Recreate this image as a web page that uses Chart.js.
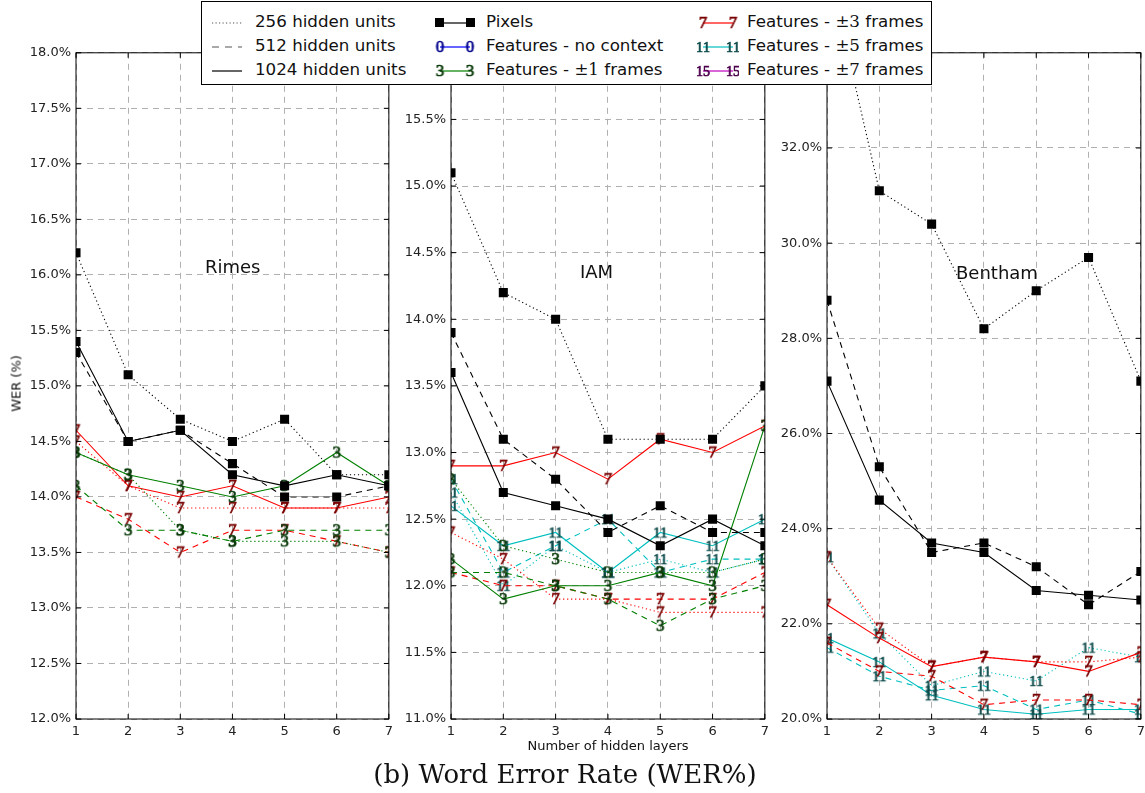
<!DOCTYPE html>
<html>
<head>
<meta charset="utf-8">
<script src="https://cdn.jsdelivr.net/npm/chart.js@4/dist/chart.umd.min.js"></script>
<style>
  body { margin: 0; background: #fff; width: 1145px; height: 793px; position: relative; overflow: hidden; font-family: "DejaVu Sans", sans-serif; }
  canvas.panel { position: absolute; top: 40px; }
  .lbl { position: absolute; color: #111; white-space: nowrap; }
  #legend { position: absolute; left: 201px; top: 1px; width: 729px; height: 82px; border: 1px solid #000; background: #fff; z-index: 5; }
  #legend .item { position: absolute; height: 20px; }
  #legend canvas { position: absolute; top: 0; }
  #legend span { position: absolute; top: -2px; font-size: 16.7px; color: #111; white-space: nowrap; }
  .pm { font-family: "DejaVu Serif", serif; font-size: 15.5px; }
</style>
</head>
<body>
<canvas id="rimes" class="panel" width="398" height="721" style="left:0px"></canvas>
<canvas id="iam" class="panel" width="384" height="721" style="left:390px"></canvas>
<canvas id="bentham" class="panel" width="384" height="721" style="left:766px"></canvas>

<div class="lbl" style="left:205px; top:256px; font-size:18px;">Rimes</div>
<div class="lbl" style="left:580px; top:261px; font-size:18px;">IAM</div>
<div class="lbl" style="left:956px; top:262px; font-size:18px;">Bentham</div>
<div class="lbl" style="left:-13px; top:376px; font-size:13px; transform:rotate(-90deg); width:58px; text-align:center;">WER (%)</div>
<div class="lbl" style="left:508px; top:738px; width:200px; text-align:center; font-size:13px;">Number of hidden layers</div>
<div class="lbl" style="left:258px; top:759px; width:614px; text-align:center; font-family:'DejaVu Serif',serif; font-size:26px;">(b) Word Error Rate (WER%)</div>

<div id="legend"></div>

<script>
/* layers on the x axis */
const layers = ["1", "2", "3", "4", "5", "6", "7"];

/* Rimes: WER % */
const rimesPix256 = [16.2, 15.1, 14.7, 14.5, 14.7, 14.2, 14.2];
const rimesPix512 = [15.3, 14.5, 14.6, 14.3, 14.0, 14.0, 14.1];
const rimesPix1024 = [15.4, 14.5, 14.6, 14.2, 14.1, 14.2, 14.1];
const rimesF1_256 = [14.4, 14.2, 13.7, 13.6, 13.6, 13.6, 13.5];
const rimesF1_512 = [14.1, 13.7, 13.7, 13.6, 13.7, 13.7, 13.7];
const rimesF1_1024 = [14.4, 14.2, 14.1, 14.0, 14.1, 14.4, 14.1];
const rimesF3_256 = [14.5, 14.1, 13.9, 13.9, 13.9, 13.9, 13.9];
const rimesF3_512 = [14.0, 13.8, 13.5, 13.7, 13.7, 13.6, 13.5];
const rimesF3_1024 = [14.6, 14.1, 14.0, 14.1, 13.9, 13.9, 14.0];

/* IAM */
const iamPix256 = [15.1, 14.2, 14.0, 13.1, 13.1, 13.1, 13.5];
const iamPix512 = [13.9, 13.1, 12.8, 12.4, 12.6, 12.4, 12.4];
const iamPix1024 = [13.6, 12.7, 12.6, 12.5, 12.3, 12.5, 12.3];
const iamF1_256 = [12.8, 12.3, 12.2, 12.1, 12.1, 12.1, 12.2];
const iamF1_512 = [12.1, 12.1, 12.0, 11.9, 11.7, 11.9, 12.0];
const iamF1_1024 = [12.2, 11.9, 12.0, 12.0, 12.1, 12.0, 13.2];
const iamF3_256 = [12.4, 12.2, 11.9, 11.9, 11.8, 11.8, 11.8];
const iamF3_512 = [12.1, 12.0, 12.0, 11.9, 11.9, 11.9, 12.1];
const iamF3_1024 = [12.9, 12.9, 13.0, 12.8, 13.1, 13.0, 13.2];
const iamF5_256 = [12.7, 12.0, 12.3, 12.1, 12.2, 12.1, 12.2];
const iamF5_512 = [12.8, 12.1, 12.3, 12.5, 12.1, 12.2, 12.2];
const iamF5_1024 = [12.6, 12.3, 12.4, 12.1, 12.4, 12.3, 12.5];

/* Bentham */
const benPix256 = [35.9, 31.1, 30.4, 28.2, 29.0, 29.7, 27.1];
const benPix512 = [28.8, 25.3, 23.5, 23.7, 23.2, 22.4, 23.1];
const benPix1024 = [27.1, 24.6, 23.7, 23.5, 22.7, 22.6, 22.5];
const benF3_256 = [23.4, 21.9, 21.1, 21.3, 21.2, 21.2, 21.3];
const benF3_512 = [21.6, 21.0, 20.9, 20.3, 20.4, 20.4, 20.3];
const benF3_1024 = [22.4, 21.7, 21.1, 21.3, 21.2, 21.0, 21.4];
const benF5_256 = [23.4, 21.8, 20.7, 21.0, 20.8, 21.5, 21.3];
const benF5_512 = [21.5, 20.9, 20.6, 20.7, 20.2, 20.4, 20.1];
const benF5_1024 = [21.7, 21.2, 20.5, 20.2, 20.1, 20.2, 20.2];

/* ---------- styles ---------- */
const dashFor = { 256: [1.2, 2.8], 512: [6, 5], 1024: [] };
const kinds = {
  pix: { line: "#000000", mark: "#000000", txt: null },
  f0:  { line: "#0000ff", mark: "#00008b", txt: "0" },
  f1:  { line: "#008000", mark: "#0b3b0b", txt: "3" },
  f3:  { line: "#ff0000", mark: "#7a0000", txt: "7" },
  f5:  { line: "#00bfbf", mark: "#0e4a4a", txt: "11" },
  f7:  { line: "#bf00bf", mark: "#4b004b", txt: "15" }
};

function textMarker(txt, color) {
  const c = document.createElement("canvas");
  c.width = txt.length > 1 ? 18 : 13;
  c.height = 18;
  const g = c.getContext("2d");
  g.font = (txt.length > 1 ? "14px" : "17px") + ' "Liberation Serif", serif';
  g.textAlign = "center";
  g.textBaseline = "middle";
  g.fillStyle = color;
  g.strokeStyle = color;
  g.lineWidth = 0.7;
  const parts = txt.length > 1 ? [[txt[0], -3.6], [txt[1], 3.6]] : [[txt, 0]];
  parts.forEach(([ch, dx]) => {
    g.fillText(ch, c.width / 2 + dx, c.height / 2 + 1);
    g.strokeText(ch, c.width / 2 + dx, c.height / 2 + 1);
  });
  return c;
}

const markers = {};
Object.keys(kinds).forEach(k => {
  if (kinds[k].txt) markers[k] = textMarker(kinds[k].txt, kinds[k].mark);
});

function ds(data, kind, units) {
  const k = kinds[kind];
  const isPix = kind === "pix";
  return {
    data,
    borderColor: k.line,
    borderWidth: 1.1,
    borderDash: dashFor[units],
    backgroundColor: k.mark,
    pointBorderColor: k.mark,
    pointBackgroundColor: k.mark,
    pointStyle: isPix ? "rect" : markers[kind],
    pointRadius: isPix ? 6.4 : 5,
    pointBorderWidth: 0,
    tension: 0,
    fill: false,
    clip: 0
  };
}

/* frame + inward ticks like matplotlib */
const framePlugin = {
  id: "frame",
  afterDraw(chart) {
    const { ctx, chartArea: a, scales } = chart;
    ctx.save();
    ctx.strokeStyle = "#000";
    ctx.lineWidth = 1;
    ctx.setLineDash([]);
    ctx.beginPath();
    scales.y.ticks.forEach(t => {
      const y = scales.y.getPixelForValue(t.value);
      ctx.moveTo(a.left, y); ctx.lineTo(a.left + 5, y);
      ctx.moveTo(a.right, y); ctx.lineTo(a.right - 5, y);
    });
    layers.forEach((l, i) => {
      const x = scales.x.getPixelForValue(i);
      ctx.moveTo(x, a.bottom); ctx.lineTo(x, a.bottom - 5);
      ctx.moveTo(x, a.top); ctx.lineTo(x, a.top + 5);
    });
    ctx.stroke();
    ctx.strokeRect(a.left, a.top, a.right - a.left, a.bottom - a.top);
    ctx.restore();
  }
};

function makePanel(id, yMin, yMax, yStep, padRight, yWidth, datasets) {
  const tickFont = { family: "DejaVu Sans", size: 13 };
  return new Chart(document.getElementById(id), {
    type: "line",
    data: { labels: layers, datasets },
    options: {
      responsive: false,
      animation: false,
      devicePixelRatio: 1,
      layout: { padding: { top: 9, right: padRight, left: 0, bottom: 0 } },
      plugins: { legend: { display: false }, tooltip: { enabled: false } },
      scales: {
        x: {
          offset: false,
          grid: { color: "#b0b0b0", lineWidth: 1, drawTicks: false },
          border: { display: false, dash: [6, 5] },
          ticks: { font: tickFont, color: "#222", padding: 5, maxRotation: 0, autoSkip: false },
          afterFit: s => { s.height = 42; }
        },
        y: {
          min: yMin,
          max: yMax,
          grid: { color: "#b0b0b0", lineWidth: 1, drawTicks: false },
          border: { display: false, dash: [6, 5] },
          ticks: { stepSize: yStep, font: tickFont, color: "#222", padding: 5, callback: v => v.toFixed(1) + "%" },
          afterFit: s => { s.width = yWidth; }
        }
      }
    },
    plugins: [framePlugin]
  });
}

makePanel("rimes", 12, 18, 0.5, 6, 76, [
  ds(rimesPix256, "pix", 256), ds(rimesPix512, "pix", 512), ds(rimesPix1024, "pix", 1024),
  ds(rimesF1_256, "f1", 256), ds(rimesF1_512, "f1", 512), ds(rimesF1_1024, "f1", 1024),
  ds(rimesF3_256, "f3", 256), ds(rimesF3_512, "f3", 512), ds(rimesF3_1024, "f3", 1024)
]);

makePanel("iam", 11, 16, 0.5, 6, 61, [
  ds(iamPix256, "pix", 256), ds(iamPix512, "pix", 512), ds(iamPix1024, "pix", 1024),
  ds(iamF1_256, "f1", 256), ds(iamF1_512, "f1", 512), ds(iamF1_1024, "f1", 1024),
  ds(iamF3_256, "f3", 256), ds(iamF3_512, "f3", 512), ds(iamF3_1024, "f3", 1024),
  ds(iamF5_256, "f5", 256), ds(iamF5_512, "f5", 512), ds(iamF5_1024, "f5", 1024)
]);

makePanel("bentham", 20, 34, 2, 6, 61, [
  ds(benPix256, "pix", 256), ds(benPix512, "pix", 512), ds(benPix1024, "pix", 1024),
  ds(benF3_256, "f3", 256), ds(benF3_512, "f3", 512), ds(benF3_1024, "f3", 1024),
  ds(benF5_256, "f5", 256), ds(benF5_512, "f5", 512), ds(benF5_1024, "f5", 1024)
]);

/* ---------- legend ---------- */
const legendRows = [11, 35, 59];
const legendItems = [
  { col: 0, row: 0, text: "256 hidden units", units: 256 },
  { col: 0, row: 1, text: "512 hidden units", units: 512 },
  { col: 0, row: 2, text: "1024 hidden units", units: 1024 },
  { col: 1, row: 0, text: "Pixels", kind: "pix" },
  { col: 1, row: 1, text: "Features - no context", kind: "f0" },
  { col: 1, row: 2, html: 'Features - <span class="pm" style="position:static">±1</span> frames', kind: "f1" },
  { col: 2, row: 0, html: 'Features - <span class="pm" style="position:static">±3</span> frames', kind: "f3" },
  { col: 2, row: 1, html: 'Features - <span class="pm" style="position:static">±5</span> frames', kind: "f5" },
  { col: 2, row: 2, html: 'Features - <span class="pm" style="position:static">±7</span> frames', kind: "f7" }
];
const colX = [
  { sx: 8, sw: 36, tx: 53 },
  { sx: 232, sw: 42, tx: 284 },
  { sx: 495, sw: 42, tx: 545 }
];

const legend = document.getElementById("legend");
legendItems.forEach(it => {
  const c = colX[it.col];
  const item = document.createElement("div");
  item.className = "item";
  item.style.left = "0px";
  item.style.top = legendRows[it.row] + "px";
  const cv = document.createElement("canvas");
  cv.width = c.sw; cv.height = 20;
  cv.style.left = c.sx + "px";
  const g = cv.getContext("2d");
  if (it.units) {
    g.strokeStyle = it.units === 1024 ? "#666" : "#555";
    g.lineWidth = it.units === 1024 ? 2 : 1.2;
    g.setLineDash(it.units === 256 ? [1.2, 2.3] : it.units === 512 ? [7, 6] : []);
    g.beginPath(); g.moveTo(2, 10); g.lineTo(c.sw - 4, 10); g.stroke();
  } else {
    const k = kinds[it.kind];
    g.strokeStyle = k.line; g.lineWidth = 1.2;
    g.beginPath(); g.moveTo(6, 10); g.lineTo(c.sw - 6, 10); g.stroke();
    if (it.kind === "pix") {
      g.fillStyle = "#000";
      g.fillRect(1, 5, 9, 9);
      g.fillRect(c.sw - 10, 5, 9, 9);
    } else {
      const m = markers[it.kind];
      g.drawImage(m, 6 - m.width / 2, 10 - m.height / 2);
      g.drawImage(m, c.sw - 6 - m.width / 2, 10 - m.height / 2);
    }
  }
  item.appendChild(cv);
  const sp = document.createElement("span");
  sp.style.left = c.tx + "px";
  if (it.html) sp.innerHTML = it.html; else sp.textContent = it.text;
  item.appendChild(sp);
  legend.appendChild(item);
});
</script>
</body>
</html>
